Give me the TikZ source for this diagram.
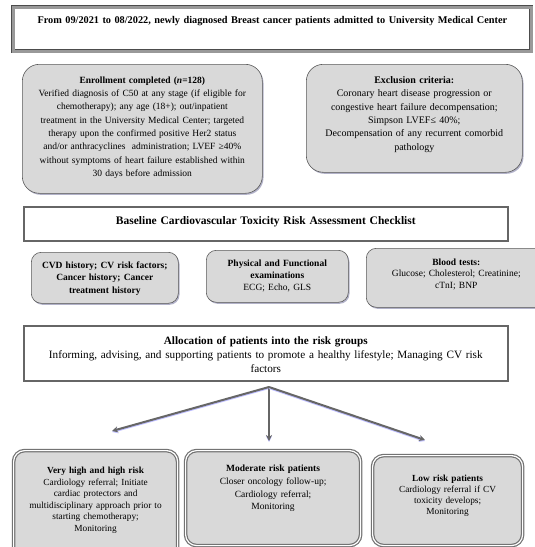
\documentclass[tikz,border=0pt]{standalone}
\usepackage{fontspec}
\setmainfont{Liberation Serif}
\usetikzlibrary{arrows.meta,shadows}

\begin{document}
\begin{tikzpicture}{
    \def\dx{1pt}
    \def\dy{1pt}
    \newcounter{box}
    \tikzstyle{every node}=[inner sep=0pt, align=center, anchor=north west]
    \tikzstyle{frame}=[draw=black!70, double=black!40, double distance=2.5pt, line width=0.7pt, fill=white]
    \tikzstyle{bar}=[draw=black!60, line width=1.6pt, fill=white]
    \tikzstyle{soft}=[draw=black!65, line width=0.6pt, fill=black!15, rounded corners=10pt, drop shadow={shadow xshift=1.2pt, shadow yshift=-1.5pt, fill=blue!30!black!60}]
    \tikzstyle{big}=[rounded corners=17pt]
    \tikzstyle{risk}=[draw=black!55, double=white, double distance=1.2pt, line width=1.2pt, fill=black!15, rounded corners=11pt]

    \useasboundingbox (0,0) rectangle (535*\dx,-547*\dy);

    \stepcounter{box}\node[frame, text width=518pt, text height=16pt, text depth=28pt, font=\fontsize{10.3}{12}\selectfont\bfseries] (\arabic{box}) at (13*\dx,-7*\dy) {From 09/2021 to 08/2022, newly diagnosed Breast cancer patients admitted to University Medical Center};
    \stepcounter{box}\node[soft, big, text width=240pt, text height=19pt, text depth=110pt, font=\fontsize{9.5}{13.3}\selectfont] (\arabic{box}) at (22*\dx,-64*\dy) {\textbf{Enrollment completed (\textit{n}=128)}\\Verified diagnosis of C50 at any stage (if eligible for\\chemotherapy); any age (18+); out/inpatient\\treatment in the University Medical Center; targeted\\therapy upon the confirmed positive Her2 status\\and/or anthracyclines~ administration; LVEF ≥40\%\\without symptoms of heart failure established within\\30 days before admission};
    \stepcounter{box}\node[soft, big, text width=216pt, text height=19pt, text depth=89pt, font=\fontsize{10}{13.4}\selectfont] (\arabic{box}) at (306*\dx,-64*\dy) {\textbf{Exclusion criteria:}\\Coronary heart disease progression or\\congestive heart failure decompensation;\\Simpson LVEF≤ 40\%;\\Decompensation of any recurrent comorbid\\pathology};

    \stepcounter{box}\node[bar, text width=484pt, text height=17.5pt, text depth=16.5pt, font=\fontsize{11.5}{12}\selectfont\bfseries] (\arabic{box}) at (23*\dx,-206*\dy) {Baseline Cardiovascular Toxicity Risk Assessment Checklist};
    \stepcounter{box}\node[soft, text width=147pt, text height=16pt, text depth=35pt, font=\fontsize{9.5}{12.5}\selectfont\bfseries] (\arabic{box}) at (31*\dx,-252*\dy) {CVD history; CV risk factors;\\Cancer history; Cancer\\treatment history};
    \stepcounter{box}\node[soft, text width=142pt, text height=16pt, text depth=36pt, font=\fontsize{9.5}{12}\selectfont] (\arabic{box}) at (206*\dx,-250*\dy) {\textbf{Physical and Functional}\\\textbf{examinations}\\ECG; Echo, GLS};
    \stepcounter{box}\node[soft, text width=180pt, text height=17pt, text depth=42pt, font=\fontsize{9.5}{11.5}\selectfont] (\arabic{box}) at (366*\dx,-248*\dy) {\textbf{Blood tests:}\\Glucose; Cholesterol; Creatinine;\\cTnI; BNP};

    \stepcounter{box}\node[bar, text width=484pt, text height=18.5pt, text depth=36.5pt, font=\fontsize{11.2}{14}\selectfont] (\arabic{box}) at (23*\dx,-325*\dy) {\textbf{Allocation of patients into the risk groups}\\Informing, advising, and supporting patients to promote a healthy lifestyle; Managing CV risk\\factors};

    \stepcounter{box}\node[risk, text width=164pt, text height=23pt, text depth=87pt, font=\fontsize{9.3}{11.5}\selectfont] (\arabic{box}) at (13*\dx,-450*\dy) {\textbf{Very high and high risk}\\Cardiology referral; Initiate\\cardiac protectors and\\multidisciplinary approach prior to\\starting chemotherapy;\\Monitoring};
    \stepcounter{box}\node[risk, text width=175pt, text height=21pt, text depth=74pt, font=\fontsize{9.5}{12.7}\selectfont] (\arabic{box}) at (185*\dx,-450*\dy) {\textbf{Moderate risk patients}\\Closer oncology follow-up;\\Cardiology referral;\\Monitoring};
    \stepcounter{box}\node[risk, text width=150pt, text height=26pt, text depth=64pt, font=\fontsize{9.3}{11}\selectfont] (\arabic{box}) at (372*\dx,-455*\dy) {\textbf{Low risk patients}\\Cardiology referral if CV\\toxicity develops;\\Monitoring};

    \coordinate (12) at (269*\dx,-387*\dy);
    \coordinate (13) at (112*\dx,-431*\dy);
    \coordinate (14) at (269*\dx,-441*\dy);
    \coordinate (15) at (425*\dx,-440*\dy);

    \tikzstyle{flow} = [-{Stealth[length=6pt,width=6pt]}, draw=black!60, line width=2pt, preaction={draw=blue!25, line width=2pt, transform canvas={yshift=-1pt}}]

          \draw [flow] (12) -- (13);
          \draw [flow] (12) -- (14);
          \draw [flow] (12) -- (15);}
  \end{tikzpicture}
\end{document}
